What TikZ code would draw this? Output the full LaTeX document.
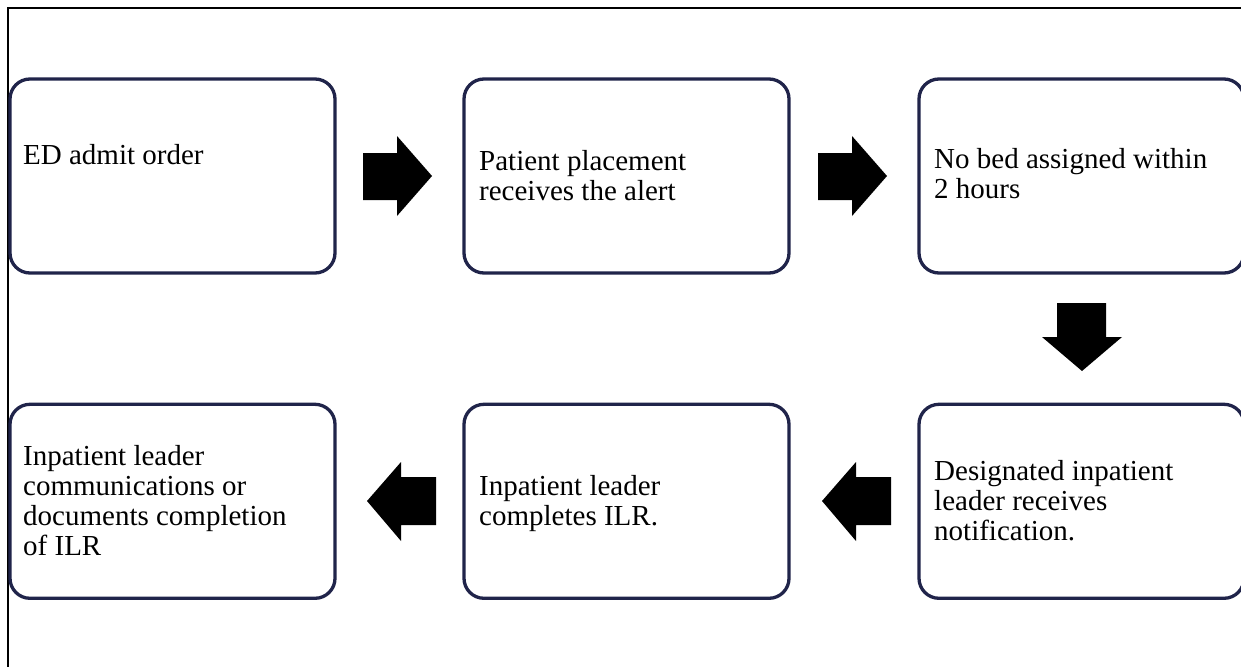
\documentclass[tikz,border=0pt]{standalone}
\usepackage{fontspec}
\setmainfont{Liberation Serif}
\definecolor{navy}{RGB}{32,36,74}
\begin{document}
\begin{tikzpicture}[x=1pt,y=-1pt,
  stepbox/.style={draw=navy, line width=3.3pt, rounded corners=20pt, minimum width=325pt, minimum height=194pt, inner sep=0pt, fill=white},
  steptext/.style={anchor=north west, inner sep=0pt, align=left, font=\fontsize{29}{30}\selectfont},
  blockarrow/.style={fill=black, draw=none}]
\useasboundingbox (0,0) rectangle (1241,666);
% frame
\draw[line width=2pt, black] (7.5,670) -- (7.5,8.5) -- (1245,8.5);
% boxes
\node[stepbox] (b1) at (172.5,176) {};
\node[stepbox] (b2) at (626.5,176) {};
\node[stepbox] (b3) at (1081.5,176) {};
\node[stepbox] (b4) at (1081.5,501.3) {};
\node[stepbox] (b5) at (626.5,501.3) {};
\node[stepbox] (b6) at (172.5,501.3) {};
% texts
\newcommand{\fs}{\rule{0pt}{21pt}}
\node[steptext] (t1) at (23,143) {\fs ED admit order};
\node[steptext] (t2) at (479,149) {\fs Patient placement\\receives the alert};
\node[steptext] (t3) at (934,147) {\fs No bed assigned within\\2 hours};
\node[steptext] (t4) at (934,459) {\fs Designated inpatient\\leader receives\\notification.};
\node[steptext] (t5) at (479,474) {\fs Inpatient leader\\completes ILR.};
\node[steptext] (t6) at (23,444) {\fs Inpatient leader\\communications or\\documents completion\\of ILR};
% block arrows
\fill[blockarrow] (363,153) -- (397,153) -- (397,136) -- (432,176) -- (397,216) -- (397,200) -- (363,200) -- cycle;
\fill[blockarrow] (818,153) -- (852,153) -- (852,136) -- (887,176) -- (852,216) -- (852,200) -- (818,200) -- cycle;
\fill[blockarrow] (1057,303) -- (1106,303) -- (1106,337) -- (1122,337) -- (1082,371) -- (1042,337) -- (1057,337) -- cycle;
\fill[blockarrow] (891,477) -- (856,477) -- (856,462) -- (822,501) -- (856,541) -- (856,525) -- (891,525) -- cycle;
\fill[blockarrow] (436,477) -- (401,477) -- (401,462) -- (367,501) -- (401,541) -- (401,525) -- (436,525) -- cycle;
\end{tikzpicture}
\end{document}
